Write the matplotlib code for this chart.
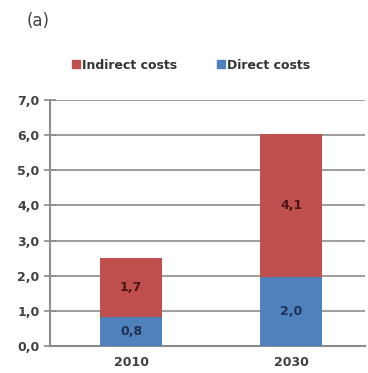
import matplotlib.pyplot as plt
from matplotlib.patches import Patch

years = ["2010", "2030"]
direct = [0.82, 1.98]
indirect = [1.68, 4.06]
yticks = [0, 1, 2, 3, 4, 5, 6, 7]

RED = "#c0504d"
BLUE = "#4f81bd"
GRID = "#8c8c8c"


def main():
    fig = plt.figure(figsize=(3.68, 3.73), dpi=100)
    ax = fig.add_axes([0.136, 0.072, 0.855, 0.66])
    x = range(len(years))
    ax.bar(x, direct, width=0.39, color=BLUE, zorder=3)
    ax.bar(x, indirect, width=0.39, bottom=direct, color=RED, zorder=3)

    for i in x:
        ax.text(i, direct[i] / 2, f"{direct[i]:.1f}".replace(".", ","),
                ha="center", va="center", fontsize=9, fontweight="bold",
                color="#1f3050", zorder=4)
        ax.text(i, direct[i] + indirect[i] / 2,
                f"{indirect[i]:.1f}".replace(".", ","),
                ha="center", va="center", fontsize=9, fontweight="bold",
                color="#4a1515", zorder=4)

    ax.set_xlim(-0.506, 1.46)
    ax.set_ylim(0, 7)
    ax.set_yticks(yticks)
    ax.set_yticklabels([f"{v:.1f}".replace(".", ",") for v in yticks])
    ax.set_xticks(list(x))
    ax.set_xticklabels(years)
    ax.yaxis.grid(True, color=GRID, linewidth=1.2, zorder=0)
    for s in ["top", "right"]:
        ax.spines[s].set_visible(False)
    for s in ["left", "bottom"]:
        ax.spines[s].set_color(GRID)
        ax.spines[s].set_linewidth(1.5)
    ax.tick_params(axis="y", direction="inout", length=9, width=1.2,
                   color=GRID, labelsize=9, labelcolor="#404040", pad=3)
    ax.tick_params(axis="x", length=0, labelsize=9, labelcolor="#404040",
                   pad=7)
    for lab in ax.get_xticklabels() + ax.get_yticklabels():
        lab.set_fontweight("bold")

    handles = [Patch(color=RED, label="Indirect costs"),
               Patch(color=BLUE, label="Direct costs")]
    fig.legend(handles=handles, loc="center", bbox_to_anchor=(0.52, 0.825),
               ncol=2, frameon=False, handlelength=0.6, handleheight=0.6,
               handletextpad=0.2, columnspacing=3.2,
               prop={"size": 9, "weight": "bold"}, labelcolor="#333333")
    fig.text(0.073, 0.945, "(a)", fontsize=12, color="#404040",
             ha="left", va="center")
    fig.savefig("out.png", dpi=100)


if __name__ == "__main__":
    main()
